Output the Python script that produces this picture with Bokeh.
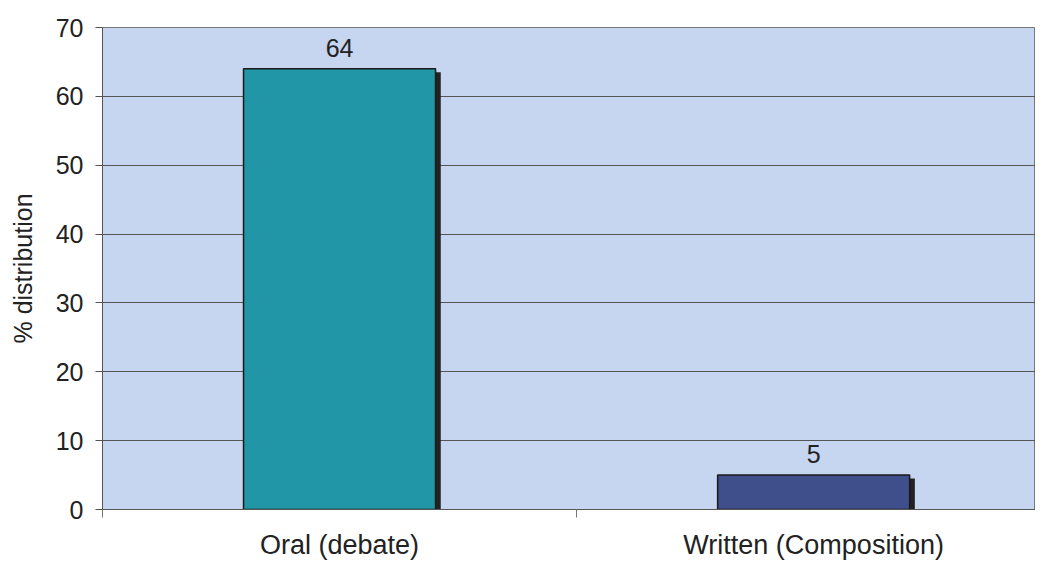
from bokeh.plotting import figure
from bokeh.models import Range1d, FixedTicker, ColumnDataSource
from bokeh.core.properties import value
from bokeh.embed import file_html
from bokeh.resources import INLINE

categories = ["Oral (debate)", "Written (Composition)"]
values = [64, 5]
labels = ["64", "5"]
colors = ["#2196a6", "#3e4f8c"]
y_ticks = [0, 10, 20, 30, 40, 50, 60, 70]

xs = [i + 0.5 for i in range(len(categories))]
bar_w = 0.405
src = ColumnDataSource(dict(x=xs, top=values, color=colors, label=labels,
                            sx=[x + 0.011 for x in xs],
                            stop=[v - 0.5 for v in values]))

p = figure(width=1035, height=562, output_backend="svg", toolbar_location=None,
           x_range=Range1d(0, 1.968), y_range=Range1d(0, 70),
           min_border_left=102, min_border_right=0, min_border_top=27, min_border_bottom=40)
p.background_fill_color = "#c6d5f0"
p.border_fill_color = "white"
p.outline_line_color = "#777777"

# shadow
p.vbar(x="sx", top="stop", bottom=0, width=bar_w, source=src,
       fill_color="#222222", line_color=None)
p.vbar(x="x", top="top", bottom=0, width=bar_w, source=src,
       fill_color="color", line_color="#1a1a1a", line_width=1.5)
p.text(x="x", y="top", text="label", source=src, text_align="center",
       text_baseline="bottom", y_offset=-12, text_font=value("Liberation Sans"),
       text_font_size="25px", text_color="#222222")

p.xaxis.ticker = FixedTicker(ticks=xs, minor_ticks=[0, 1, 2])
p.xaxis.major_label_overrides = {x: c for x, c in zip(xs, categories)}
p.xaxis.major_tick_out = 0
p.xaxis.major_tick_in = 0
p.xaxis.minor_tick_out = 8
p.xaxis.minor_tick_in = 0
p.xaxis.major_label_standoff = 12
p.xaxis.major_label_text_font = "Liberation Sans"
p.xaxis.major_label_text_font_size = "27px"
p.xaxis.major_label_text_color = "#222222"
p.xaxis.axis_line_color = "#555555"
p.xaxis.minor_tick_line_color = "#777777"

p.yaxis.ticker = FixedTicker(ticks=y_ticks)
p.yaxis.minor_tick_line_color = None
p.yaxis.major_tick_out = 7
p.yaxis.major_tick_in = 0
p.yaxis.major_label_standoff = 12
p.yaxis.major_label_text_font = "Liberation Sans"
p.yaxis.major_label_text_font_size = "25px"
p.yaxis.major_label_text_color = "#222222"
p.yaxis.axis_line_color = "#555555"
p.yaxis.major_tick_line_color = "#555555"
p.yaxis.axis_label = "% distribution"
p.yaxis.axis_label_text_font = "Liberation Sans"
p.yaxis.axis_label_text_font_size = "25px"
p.yaxis.axis_label_text_font_style = "normal"
p.yaxis.axis_label_text_color = "#222222"
p.yaxis.axis_label_standoff = 16

p.xgrid.grid_line_color = None
p.ygrid.grid_line_color = "#555555"
p.ygrid.grid_line_width = 1

open("out.html", "w").write(file_html(p, INLINE))
